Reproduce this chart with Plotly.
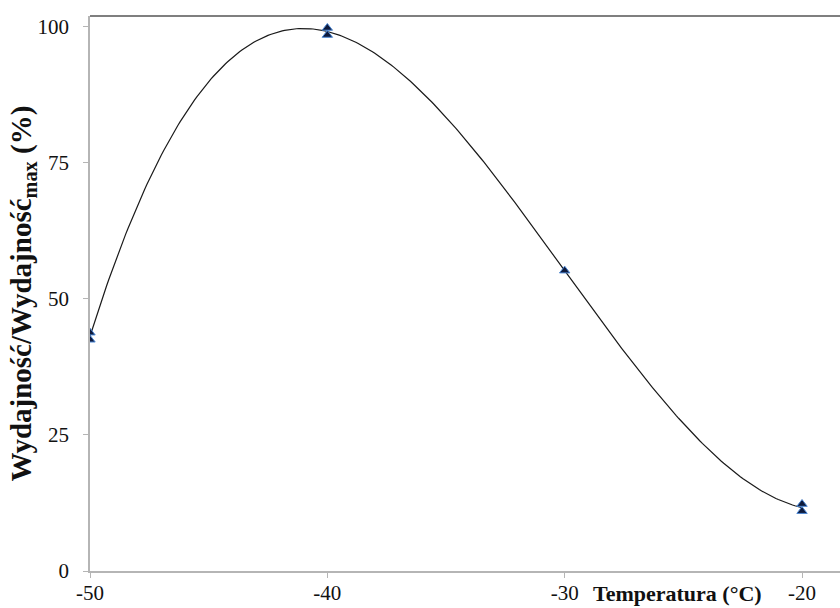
import numpy as np
import plotly.graph_objects as go

temp = [-50, -50, -40, -40, -30, -20, -20]
yield_rel = [43.8, 42.5, 99.8, 98.5, 55.2, 12.3, 11.0]
x_ticks = [-50, -40, -30, -20]
x_tick_labels = ["-50", "-40", "-30", "-20"]
y_ticks = [0, 25, 50, 75, 100]

coef = np.polyfit(temp, yield_rel, 3)
xs = np.linspace(-50, -20, 301)
ys = np.polyval(coef, xs)

fig = go.Figure()
fig.add_trace(go.Scatter(x=xs, y=ys, mode="lines",
                         line=dict(color="#1a1a1a", width=1.2), hoverinfo="skip"))
fig.add_trace(go.Scatter(x=temp, y=yield_rel, mode="markers",
                         marker=dict(symbol="triangle-up", size=9, color="#0e1a3c",
                                     line=dict(color="#4a86d4", width=1))))

font = "Times New Roman, Liberation Serif, serif"
fig.update_layout(
    width=840, height=608,
    margin=dict(l=90, r=0, t=16, b=37),
    paper_bgcolor="white", plot_bgcolor="white",
    showlegend=False,
    font=dict(family=font, size=20, color="#111"),
    xaxis=dict(range=[-50, -18.4], tickvals=x_ticks, ticktext=x_tick_labels,
               showgrid=False, zeroline=False, automargin=False,
               showline=True, linecolor="#b5b5b5", linewidth=1.5,
               ticks="outside", ticklen=5, tickcolor="#b5b5b5", ticklabelstandoff=-3,
               tickfont=dict(family=font, size=21, color="#111")),
    yaxis=dict(range=[0, 102], tickvals=y_ticks, showgrid=False, zeroline=False,
               automargin=False,
               showline=True, linecolor="#b5b5b5", linewidth=1.5,
               ticks="outside", ticklen=5, tickcolor="#b5b5b5", ticklabelstandoff=10,
               tickfont=dict(family=font, size=21, color="#111")),
    shapes=[dict(type="line", xref="paper", yref="paper", x0=0, x1=1, y0=1, y1=1,
                 line=dict(color="#555", width=1.5))],
    annotations=[
        dict(text="<b>Temperatura (°C)</b>", xref="x", yref="paper",
             x=-25.25, y=0, yanchor="middle", yshift=-22, showarrow=False,
             font=dict(family=font, size=22, color="#111")),
        dict(text="<b>Wydajność/Wydajność<sub>max</sub> (%)</b>", xref="paper", yref="paper",
             x=0, y=0.5, xanchor="center", yanchor="middle", xshift=-68, textangle=-90,
             showarrow=False, font=dict(family=font, size=29, color="#111")),
    ],
)
fig.write_html("out.html")
